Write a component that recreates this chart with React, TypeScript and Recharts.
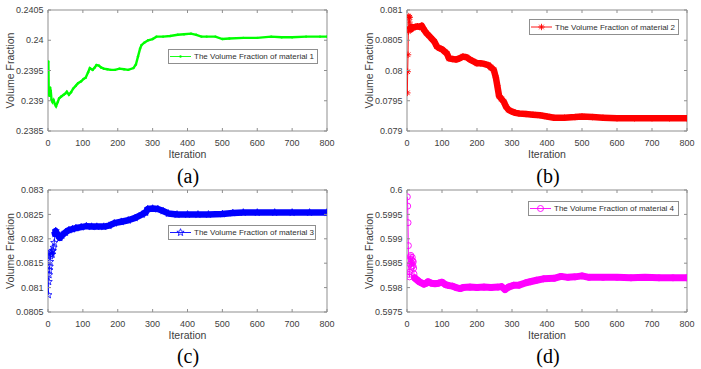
import { LineChart, Line, XAxis, YAxis, ReferenceArea, Legend } from "recharts";

const FONT = '"Liberation Sans", Arial, Helvetica, sans-serif';
const TEXT = "#404040";
const AXIS = "#8f8f8f";

const ITER_TICKS = [0, 100, 200, 300, 400, 500, 600, 700, 800];

// material 1
const iterA = [1, 2, 3, 4, 6, 8, 10, 13, 16, 20, 23, 28, 32, 38, 45, 50, 54, 60, 66, 72, 80, 86, 95, 102, 108, 115, 120, 128, 134, 139, 146, 152, 160, 170, 180, 192, 205, 218, 230, 245, 252, 258, 264, 268, 276, 287, 300, 311, 330, 350, 372, 390, 410, 425, 440, 455, 480, 500, 520, 560, 600, 640, 670, 700, 740, 780, 800];
const valA = [0.23965, 0.2392, 0.23912, 0.23908, 0.23922, 0.23916, 0.23902, 0.23898, 0.23901, 0.23894, 0.23891, 0.23898, 0.23904, 0.23907, 0.2391, 0.23912, 0.23915, 0.2391, 0.23914, 0.2392, 0.23925, 0.23929, 0.23932, 0.23936, 0.23938, 0.23947, 0.23954, 0.23951, 0.23955, 0.23959, 0.23958, 0.23955, 0.23953, 0.23952, 0.23951, 0.23951, 0.23953, 0.23952, 0.23951, 0.23954, 0.2396, 0.23973, 0.23986, 0.23992, 0.23996, 0.24, 0.24002, 0.24006, 0.24006, 0.24007, 0.24009, 0.2401, 0.24011, 0.24009, 0.24006, 0.24006, 0.24006, 0.24002, 0.24003, 0.24004, 0.24004, 0.24006, 0.24005, 0.24005, 0.24006, 0.24006, 0.24006];
const ticksA = [0.2385, 0.239, 0.2395, 0.24, 0.2405];

// material 2
const iterB = [1, 2, 3, 4, 5, 6, 7, 8, 9, 11, 14, 18, 24, 30, 36, 42, 48, 55, 62, 70, 78, 85, 92, 100, 108, 114, 120, 130, 140, 150, 160, 170, 180, 190, 200, 210, 220, 232, 240, 248, 254, 258, 263, 270, 277, 283, 290, 300, 310, 320, 340, 360, 380, 400, 420, 450, 480, 500, 530, 560, 600, 650, 700, 750, 800];
const valB = [0.07963, 0.07998, 0.08026, 0.08064, 0.0809, 0.08088, 0.0808, 0.08088, 0.0807, 0.08068, 0.08072, 0.08071, 0.08072, 0.08073, 0.08072, 0.08074, 0.08068, 0.08062, 0.08058, 0.08053, 0.08048, 0.0804, 0.08037, 0.08035, 0.08031, 0.08028, 0.0802, 0.08019, 0.08018, 0.0802, 0.08023, 0.08022, 0.08018, 0.08015, 0.08012, 0.08012, 0.08011, 0.08009, 0.08005, 0.08001, 0.07988, 0.07975, 0.07958, 0.07953, 0.07948, 0.0794, 0.07935, 0.07932, 0.0793, 0.07929, 0.07928, 0.07927, 0.07926, 0.07924, 0.07922, 0.07922, 0.07923, 0.07924, 0.07923, 0.07922, 0.07921, 0.07921, 0.07921, 0.07921, 0.07921];
const ticksB = [0.079, 0.0795, 0.08, 0.0805, 0.081];

// material 3
const iterC = [1, 2, 3, 4, 5, 6, 7, 8, 9, 10, 12, 14, 16, 18, 20, 22, 25, 30, 34, 40, 50, 60, 70, 80, 95, 110, 125, 140, 160, 175, 190, 210, 230, 250, 270, 280, 286, 300, 315, 330, 345, 370, 400, 430, 460, 500, 530, 560, 600, 650, 700, 750, 800];
const valC = [0.08085, 0.08112, 0.08126, 0.08136, 0.08143, 0.08153, 0.08165, 0.08171, 0.08168, 0.08174, 0.08168, 0.08176, 0.08182, 0.08192, 0.0821, 0.08216, 0.08211, 0.08206, 0.08202, 0.08207, 0.08213, 0.08218, 0.0822, 0.08222, 0.08224, 0.08226, 0.08225, 0.08225, 0.08225, 0.08227, 0.08232, 0.08235, 0.08238, 0.08243, 0.0825, 0.08254, 0.08261, 0.08262, 0.08261, 0.08257, 0.08252, 0.0825, 0.0825, 0.0825, 0.0825, 0.08251, 0.08253, 0.08254, 0.08254, 0.08254, 0.08254, 0.08254, 0.08254];
const ticksC = [0.0805, 0.081, 0.0815, 0.082, 0.0825, 0.083];

// material 4
const iterD = [1, 2, 3, 4, 5, 6, 7, 8, 9, 10, 11, 12, 13, 14, 15, 16, 17, 18, 19, 20, 22, 25, 30, 35, 40, 48, 55, 60, 70, 80, 90, 100, 110, 120, 130, 140, 152, 160, 180, 200, 220, 240, 260, 270, 280, 290, 305, 320, 340, 352, 370, 390, 420, 440, 460, 480, 500, 520, 560, 600, 640, 680, 720, 760, 800];
const valD = [0.59986, 0.59967, 0.59933, 0.59886, 0.59855, 0.59827, 0.59822, 0.59832, 0.59848, 0.59863, 0.59866, 0.59858, 0.59842, 0.5985, 0.59862, 0.59855, 0.59845, 0.59853, 0.5984, 0.59828, 0.5982, 0.59818, 0.59815, 0.59812, 0.5981, 0.59807, 0.59809, 0.59812, 0.59809, 0.59808, 0.59809, 0.59811, 0.59806, 0.59804, 0.59803, 0.598, 0.59798, 0.598, 0.59801, 0.598, 0.59801, 0.598, 0.59801, 0.59802, 0.59796, 0.59801, 0.59805, 0.59805, 0.5981, 0.59812, 0.59815, 0.59818, 0.59819, 0.59823, 0.59821, 0.59822, 0.59824, 0.59821, 0.59821, 0.59821, 0.5982, 0.59821, 0.5982, 0.5982, 0.5982];
const ticksD = [0.5975, 0.598, 0.5985, 0.599, 0.5995, 0.6];

type Shape = "point" | "asterisk" | "star" | "circle";

const fmt = (v: number) => String(parseFloat(v.toFixed(5)));

const Marker = ({ cx, cy, shape, color }: { cx: number; cy: number; shape: Shape; color: string }) => {
  if (cx == null || cy == null) return <g />;
  if (shape === "point") return <circle cx={cx} cy={cy} r={1.2} fill={color} />;
  if (shape === "asterisk") {
    const s = 3.2;
    const d = 2.3;
    return (
      <g stroke={color} strokeWidth={0.9}>
        <line x1={cx - s} x2={cx + s} y1={cy} y2={cy} />
        <line x1={cx} x2={cx} y1={cy - s} y2={cy + s} />
        <line x1={cx - d} y1={cy - d} x2={cx + d} y2={cy + d} />
        <line x1={cx - d} y1={cy + d} x2={cx + d} y2={cy - d} />
      </g>
    );
  }
  if (shape === "star") {
    const pts = [];
    for (let k = 0; k < 10; k++) {
      const a = ((-90 + k * 36) * Math.PI) / 180;
      const r = k % 2 === 0 ? 3.8 : 1.6;
      pts.push(`${cx + r * Math.cos(a)},${cy + r * Math.sin(a)}`);
    }
    return <polygon points={pts.join(" ")} fill="none" stroke={color} strokeWidth={0.8} />;
  }
  return <circle cx={cx} cy={cy} r={3} fill="none" stroke={color} strokeWidth={0.9} />;
};

type PanelProps = {
  iters: number[];
  vals: number[];
  yTicks: number[];
  color: string;
  shape: Shape;
  name: string;
  bandFrom: number;
  bandWidth: number;
  lineWidth: number;
  left: number;
  right: number;
  top: number;
  bottom: number;
  height: number;
  legend: { left: number; top: number; width: number; height: number };
};

const Panel = (p: PanelProps) => {
  const W = 350;
  const rows = p.iters.map((it, i) => ({ it, v: p.vals[i], band: it >= p.bandFrom ? p.vals[i] : null }));
  const yMin = p.yTicks[0];
  const yMax = p.yTicks[p.yTicks.length - 1];

  const xTick = (t: any) => (
    <g>
      <line x1={t.x} x2={t.x} y1={p.bottom} y2={p.bottom - 3} stroke={AXIS} />
      <line x1={t.x} x2={t.x} y1={p.top} y2={p.top + 3} stroke={AXIS} />
      <text x={t.x} y={p.bottom + 15} textAnchor="middle" fontSize={9} fill={TEXT}>
        {t.payload.value}
      </text>
    </g>
  );

  const yTick = (t: any) => (
    <g>
      <line x1={p.left} x2={p.left + 3} y1={t.y} y2={t.y} stroke={AXIS} />
      <line x1={p.right} x2={p.right - 3} y1={t.y} y2={t.y} stroke={AXIS} />
      <text x={p.left - 4.5} y={t.y + 3.2} textAnchor="end" fontSize={9} fill={TEXT}>
        {fmt(t.payload.value)}
      </text>
    </g>
  );

  const legendContent = () => (
    <div
      style={{
        boxSizing: "border-box",
        width: p.legend.width,
        height: p.legend.height,
        border: `1px solid ${AXIS}`,
        background: "#fff",
        display: "flex",
        alignItems: "center",
        fontFamily: FONT,
        fontSize: 8,
        color: "#303030",
        whiteSpace: "nowrap",
      }}
    >
      <svg width={24} height={p.legend.height - 2} style={{ flex: "none" }}>
        <line x1={1} x2={22} y1={(p.legend.height - 2) / 2} y2={(p.legend.height - 2) / 2} stroke={p.color} strokeWidth={0.9} />
        <Marker cx={11.5} cy={(p.legend.height - 2) / 2} shape={p.shape} color={p.color} />
      </svg>
      <span style={{ marginLeft: 1 }}>{p.name}</span>
    </div>
  );

  return (
    <LineChart
      width={W}
      height={p.height}
      data={rows}
      margin={{ top: p.top, left: p.left - 40, right: W - p.right, bottom: p.height - p.bottom - 40 }}
      style={{ fontFamily: FONT }}
    >
      <XAxis
        dataKey="it"
        type="number"
        domain={[0, 800]}
        ticks={ITER_TICKS}
        allowDataOverflow
        height={40}
        tickSize={0}
        tickMargin={8}
        axisLine={false}
        tick={xTick}
        label={{ value: "Iteration", position: "insideTop", offset: 20, fontSize: 10.5, fill: TEXT }}
      />
      <YAxis
        type="number"
        domain={[yMin, yMax]}
        ticks={p.yTicks}
        allowDataOverflow
        width={40}
        tickSize={0}
        tickMargin={5}
        axisLine={false}
        tick={yTick}
        label={{ value: "Volume Fraction", angle: -90, position: "insideLeft", offset: 2, fontSize: 10.5, fill: TEXT, style: { textAnchor: "middle" } }}
      />
      <ReferenceArea x1={0} x2={800} y1={yMin} y2={yMax} fill="none" stroke={AXIS} strokeWidth={1} />
      <Line
        dataKey="band"
        stroke={p.color}
        strokeWidth={p.bandWidth}
        strokeLinecap="round"
        strokeLinejoin="round"
        dot={false}
        activeDot={false}
        isAnimationActive={false}
        legendType="none"
      />
      <Line
        dataKey="v"
        stroke={p.color}
        strokeWidth={p.lineWidth}
        dot={(d: any) => <Marker key={`m-${d.index}`} cx={d.cx} cy={d.cy} shape={p.shape} color={p.color} />}
        activeDot={false}
        isAnimationActive={false}
      />
      <Legend
        layout="horizontal"
        align="center"
        verticalAlign="middle"
        content={legendContent}
        wrapperStyle={{ left: p.legend.left, top: p.legend.top, width: p.legend.width, height: p.legend.height }}
      />
    </LineChart>
  );
};

const Caption = ({ text, x, y }: { text: string; x: number; y: number }) => (
  <div
    style={{
      position: "absolute",
      left: x - 30,
      top: y - 12,
      width: 60,
      height: 24,
      lineHeight: "24px",
      textAlign: "center",
      fontFamily: '"Liberation Serif", "Times New Roman", serif',
      fontSize: 20,
      color: "#000",
    }}
  >
    {text}
  </div>
);

export default function App() {
  return (
    <div style={{ position: "absolute", left: 0, top: 0, width: 701, height: 369, background: "#fff", overflow: "hidden" }}>
      <div style={{ position: "absolute", left: 0, top: 0 }}>
        <Panel
          iters={iterA}
          vals={valA}
          yTicks={ticksA}
          color="#00ff00"
          shape="point"
          name="The Volume Fraction of material 1"
          bandFrom={1000}
          bandWidth={2.5}
          lineWidth={2.4}
          left={48}
          right={327}
          top={10}
          bottom={131}
          height={190}
          legend={{ left: 168, top: 49, width: 150, height: 15 }}
        />
      </div>
      <div style={{ position: "absolute", left: 350, top: 0 }}>
        <Panel
          iters={iterB}
          vals={valB}
          yTicks={ticksB}
          color="#ff0000"
          shape="asterisk"
          name="The Volume Fraction of material 2"
          bandFrom={9}
          bandWidth={6.5}
          lineWidth={0.9}
          left={57}
          right={337}
          top={10}
          bottom={131}
          height={190}
          legend={{ left: 179, top: 19, width: 150, height: 16 }}
        />
      </div>
      <div style={{ position: "absolute", left: 0, top: 180 }}>
        <Panel
          iters={iterC}
          vals={valC}
          yTicks={ticksC}
          color="#0000ff"
          shape="star"
          name="The Volume Fraction of material 3"
          bandFrom={20}
          bandWidth={6.5}
          lineWidth={0.9}
          left={48}
          right={327}
          top={10}
          bottom={132}
          height={189}
          legend={{ left: 168, top: 45, width: 148, height: 15 }}
        />
      </div>
      <div style={{ position: "absolute", left: 350, top: 180 }}>
        <Panel
          iters={iterD}
          vals={valD}
          yTicks={ticksD}
          color="#ff00ff"
          shape="circle"
          name="The Volume Fraction of material 4"
          bandFrom={22}
          bandWidth={7}
          lineWidth={0.9}
          left={57}
          right={337}
          top={10}
          bottom={132}
          height={189}
          legend={{ left: 178, top: 21, width: 151, height: 15 }}
        />
      </div>
      <Caption text="(a)" x={188} y={176} />
      <Caption text="(b)" x={548} y={176} />
      <Caption text="(c)" x={188} y={356} />
      <Caption text="(d)" x={548} y={356} />
    </div>
  );
}
